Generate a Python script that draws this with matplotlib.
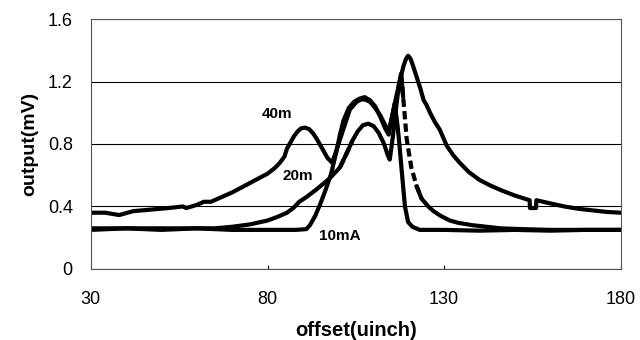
import numpy as np
import matplotlib
matplotlib.use("Agg")
import matplotlib.pyplot as plt

plt.rcParams['font.family'] = ['Liberation Sans', 'DejaVu Sans']

# -----------------------------------------
# DATA
# -----------------------------------------
x_40 = [30, 34, 38, 42, 47, 52, 56, 57, 60, 62, 64, 66, 68, 70, 72.5, 75, 77.5,
        80, 82, 83.5, 84.8, 85.5, 86.5, 87.5, 88.5, 89.5, 90.6, 91.8, 93, 94,
        95.5, 97, 98.3, 99.5, 101.4, 103.3, 105.2, 106.5, 107.6, 109, 110.5,
        112, 113.3, 114.3, 115.5, 116.5, 117.5, 118.5, 119.2, 119.8, 120.5,
        121.2, 122.2, 123.2, 124.2, 125, 126, 127.4, 128.8, 130.7, 132.5, 134.4,
        137, 140, 143, 146, 150, 154.2, 154.3, 156, 156.1, 160, 164, 168, 172,
        176, 180]
y_40 = [0.36, 0.36, 0.345, 0.37, 0.38, 0.39, 0.40, 0.39, 0.41, 0.43, 0.43, 0.45,
        0.47, 0.49, 0.52, 0.55, 0.58, 0.61, 0.645, 0.68, 0.72, 0.77, 0.81, 0.85,
        0.88, 0.90, 0.905, 0.895, 0.865, 0.83, 0.77, 0.71, 0.68, 0.76, 0.89, 1.02,
        1.07, 1.085, 1.085, 1.07, 1.03, 0.98, 0.92, 0.88, 1.00, 1.11, 1.21, 1.30,
        1.345, 1.365, 1.345, 1.30, 1.23, 1.16, 1.08, 1.05, 1.00, 0.94, 0.89, 0.79,
        0.73, 0.68, 0.62, 0.57, 0.535, 0.505, 0.47, 0.44, 0.39, 0.39, 0.44, 0.42,
        0.40, 0.385, 0.375, 0.365, 0.36]

x_20 = [30, 40, 50, 60, 65, 70, 75, 80, 83, 85.5, 87.3, 89, 91, 93.9, 97.6,
        100.5, 102.4, 104, 105.5, 107, 108.5, 110, 111.5, 113, 114, 114.6,
        115.5, 116.5, 117.2, 117.8, 118.4, 119.4, 120.7, 122.2, 123.6, 125.5,
        127, 129, 131.6, 134, 138, 142, 146, 152, 160, 170, 180]
y_20 = [0.26, 0.26, 0.26, 0.26, 0.26, 0.27, 0.285, 0.31, 0.335, 0.36, 0.39, 0.43,
        0.46, 0.51, 0.58, 0.65, 0.74, 0.82, 0.88, 0.92, 0.93, 0.915, 0.87, 0.80,
        0.73, 0.70, 0.85, 1.05, 1.18, 1.25, 1.10, 0.83, 0.65, 0.53, 0.45, 0.40,
        0.37, 0.34, 0.31, 0.295, 0.28, 0.27, 0.26, 0.255, 0.25, 0.25, 0.25]

x_10 = [30, 40, 50, 60, 70, 80, 88, 91, 92, 93.5, 95, 96.5, 98, 99.5, 100.5,
        101.5, 103, 104.5, 106, 107.5, 109, 110.5, 112, 113.3, 114.3, 115.2,
        116, 116.8, 117.4, 117.9, 118.9, 119.8, 121, 123.1, 130, 140, 150, 160,
        170, 180]
y_10 = [0.25, 0.26, 0.25, 0.26, 0.25, 0.25, 0.25, 0.255, 0.28, 0.34, 0.42, 0.51,
        0.61, 0.75, 0.86, 0.95, 1.03, 1.07, 1.09, 1.10, 1.08, 1.04, 0.97, 0.90,
        0.86, 0.97, 1.06, 0.92, 0.78, 0.65, 0.40, 0.30, 0.27, 0.25, 0.25, 0.245,
        0.25, 0.245, 0.25, 0.25]

# parts of 20m that look broken (dashed) in the reference
dash_ranges = [(100.5, 104), (117.8, 123.6)]

labels = ["40m", "20m", "10mA"]
label_pos = [(82.8, 0.99), (88.6, 0.595), (100.5, 0.21)]

xticks = [30, 80, 130, 180]
yticks = [0, 0.4, 0.8, 1.2, 1.6]

# -----------------------------------------
# PLOT
# -----------------------------------------
fig = plt.figure(figsize=(6.4, 3.4), dpi=100)
ax = fig.add_axes([0.142, 0.209, 0.828, 0.735])

lw = 3.0
style = dict(color='black', lw=lw, solid_joinstyle='round', solid_capstyle='round')
ax.plot(x_40, y_40, **style)
ax.plot(x_10, y_10, **style)

x20 = np.array(x_20)
y20 = np.array(y_20)
is_dash = np.zeros(len(x20), dtype=bool)
for a, b in dash_ranges:
    is_dash |= (x20 > a) & (x20 < b)
# solid pieces
start = 0
for i in range(1, len(x20) + 1):
    if i == len(x20) or is_dash[i] != is_dash[start]:
        lo = max(start - 1, 0)
        seg = slice(lo, min(i + 1, len(x20)))
        if is_dash[start]:
            ax.plot(x20[seg], y20[seg], color='black', lw=lw, ls=(0, (2.0, 1.0)))
        else:
            ax.plot(x20[seg], y20[seg], **style)
        start = i

for txt, (tx, ty) in zip(labels, label_pos):
    ax.text(tx, ty, txt, fontsize=11, fontweight='bold', ha='center', va='center')

ax.set_xlim(30, 180)
ax.set_ylim(0, 1.6)
ax.set_xticks(xticks)
ax.set_yticks(yticks)
ax.set_yticklabels([f"{v:g}" for v in yticks])
ax.yaxis.grid(True, color='black', lw=0.8)
ax.set_axisbelow(True)

ax.tick_params(axis='x', direction='in', length=3, pad=16, labelsize=13)
ax.tick_params(axis='y', length=0, pad=13, labelsize=13)
for s in ax.spines.values():
    s.set_color('#555555')
    s.set_linewidth(0.8)

ax.set_xlabel("offset(uinch)", fontsize=14.5, fontweight='bold', labelpad=9)
ax.set_ylabel("output(mV)", fontsize=14, fontweight='bold', labelpad=7)

fig.savefig("out.png", dpi=100)
